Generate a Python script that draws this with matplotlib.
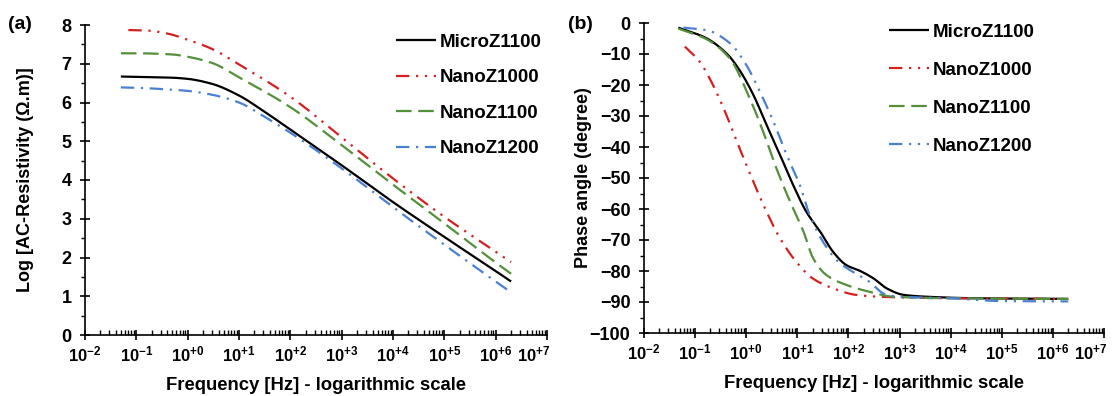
import numpy as np
import matplotlib
matplotlib.use("Agg")
import matplotlib.pyplot as plt
import matplotlib.transforms as mtransforms
from matplotlib.ticker import FixedLocator, LogLocator, NullFormatter

plt.rcParams['font.family'] = ['Liberation Sans', 'DejaVu Sans']
plt.rcParams['font.weight'] = 'bold'
plt.rcParams['mathtext.fontset'] = 'custom'
plt.rcParams['mathtext.rm'] = 'Liberation Sans:bold'
plt.rcParams['mathtext.bf'] = 'Liberation Sans:bold'
plt.rcParams['mathtext.default'] = 'bf'

series_names = ["MicroZ1100", "NanoZ1000", "NanoZ1100", "NanoZ1200"]
colors = ["#000000", "#d42020", "#54903a", "#4a80d0"]

# ---- Panel (a): log AC resistivity ----
fa_micro = [0.05, 0.1, 0.5, 1, 3, 10, 30, 100, 1e3, 1e4, 1e5, 1e6, 2e6]
ra_micro = [6.67, 6.66, 6.64, 6.61, 6.48, 6.18, 5.78, 5.30, 4.38, 3.43, 2.53, 1.65, 1.38]
fa_n1000 = [0.07, 0.15, 0.4, 1, 3, 10, 100, 1e3, 1e4, 1e5, 1e6, 2e6]
ra_n1000 = [7.87, 7.86, 7.78, 7.62, 7.38, 6.98, 6.15, 5.10, 4.04, 3.05, 2.15, 1.88]
fa_n1100 = [0.05, 0.1, 0.5, 1, 3, 10, 100, 1e3, 1e4, 1e5, 1e6, 2e6]
ra_n1100 = [7.27, 7.27, 7.24, 7.18, 7.02, 6.65, 5.88, 4.90, 3.88, 2.88, 1.87, 1.58]
fa_n1200 = [0.05, 0.1, 0.5, 1, 3, 10, 30, 100, 1e3, 1e4, 1e5, 1e6, 2e6]
ra_n1200 = [6.39, 6.38, 6.33, 6.30, 6.20, 6.00, 5.65, 5.22, 4.30, 3.30, 2.33, 1.38, 1.10]

# ---- Panel (b): phase angle ----
fb_micro = [0.047, 0.166, 0.44, 0.74, 1.38, 2.5, 4.6, 8.3, 15, 28, 50, 91, 170, 310, 560, 1200, 3400, 3.2e4, 2e6]
pb_micro = [-1.5, -4.9, -10.3, -15.2, -23.2, -32.9, -42.6, -52.3, -60.9, -67.3, -73.8, -78.1,
            -80.0, -82.4, -85.6, -87.7, -88.3, -88.8, -89.0]
fb_n1000 = [0.063, 0.123, 0.224, 0.41, 0.74, 1.38, 2.5, 4.6, 9.5, 20, 50, 140, 400, 1e4, 2e6]
pb_n1000 = [-7.6, -12.5, -20.0, -29.7, -40.4, -51.2, -60.9, -69.5, -77.0, -82.4, -85.6, -87.7,
            -88.3, -88.8, -89.0]
fb_n1100 = [0.047, 0.166, 0.48, 1.17, 2.14, 3.9, 7.2, 13.2, 20.4, 37, 91, 257, 760, 1e4, 2e6]
pb_n1100 = [-1.8, -5.2, -11.5, -24.3, -35.0, -46.9, -57.6, -67.3, -75.9, -81.3, -84.5, -86.7,
            -88.3, -88.8, -89.0]
fb_n1200 = [0.059, 0.166, 0.48, 1.0, 1.86, 3.4, 6.2, 11.2, 17.4, 31.6, 63, 107, 230, 560, 1000,
            1e4, 1e5, 2e6]
pb_n1200 = [-1.5, -2.3, -6.5, -13.5, -22.2, -31.8, -42.6, -52.3, -61.9, -70.5, -77.0, -79.7,
            -82.9, -87.7, -88.3, -88.8, -89.7, -89.8]

xtick_vals = [1e-2, 1e-1, 1e0, 1e1, 1e2, 1e3, 1e4, 1e5, 1e6, 1e7]
xtick_labels = ["10$^{-2}$", "10$^{-1}$", "10$^{+0}$", "10$^{+1}$", "10$^{+2}$",
                "10$^{+3}$", "10$^{+4}$", "10$^{+5}$", "10$^{+6}$", "10$^{+7}$"]

styles_a = [(0, ()), (0, (6, 3, 1, 3, 1, 3)), (0, (7, 3)), (0, (6, 3, 1, 3))]
styles_b = [(0, ()), (0, (6, 3, 1, 3, 1, 3)), (0, (7, 3)), (0, (6, 3, 1, 3, 1, 3))]


def smooth(f, v):
    """Monotone cubic interpolation (in log-frequency) through the read points."""
    x = np.log10(np.asarray(f, float)); y = np.asarray(v, float)
    xs = np.linspace(x[0], x[-1], 500)
    h = np.diff(x); d = np.diff(y) / h
    m = np.zeros_like(y)
    m[0] = d[0]; m[-1] = d[-1]
    for k in range(1, len(y) - 1):
        if d[k - 1] * d[k] <= 0:
            m[k] = 0
        else:
            w1 = 2 * h[k] + h[k - 1]; w2 = h[k] + 2 * h[k - 1]
            m[k] = (w1 + w2) / (w1 / d[k - 1] + w2 / d[k])
    idx = np.clip(np.searchsorted(x, xs) - 1, 0, len(x) - 2)
    t = (xs - x[idx]) / h[idx]
    h00 = 2 * t**3 - 3 * t**2 + 1; h10 = t**3 - 2 * t**2 + t
    h01 = -2 * t**3 + 3 * t**2; h11 = t**3 - t**2
    ys = h00 * y[idx] + h10 * h[idx] * m[idx] + h01 * y[idx + 1] + h11 * h[idx] * m[idx + 1]
    return 10**xs, ys


fig = plt.figure(figsize=(11.12, 3.96), dpi=100)
axa = fig.add_axes([85 / 1112, 61 / 396, 462 / 1112, 310 / 396])
axb = fig.add_axes([644 / 1112, 63 / 396, 460 / 1112, 310 / 396])

data_a = [(fa_micro, ra_micro), (fa_n1000, ra_n1000), (fa_n1100, ra_n1100), (fa_n1200, ra_n1200)]
data_b = [(fb_micro, pb_micro), (fb_n1000, pb_n1000), (fb_n1100, pb_n1100), (fb_n1200, pb_n1200)]

for i, (f, v) in enumerate(data_a):
    xs, ys = smooth(f, v)
    axa.plot(xs, ys, color=colors[i], lw=1.6, linestyle=styles_a[i], label=series_names[i])
for i, (f, v) in enumerate(data_b):
    xs, ys = smooth(f, v)
    axb.plot(xs, ys, color=colors[i], lw=1.6, linestyle=styles_b[i], label=series_names[i])

for ax, (ymin, ymax, ystep, yminor) in [(axa, (0, 8, 1, 0.5)), (axb, (-100, 0, 10, 5))]:
    ax.set_xscale('log')
    ax.set_xlim(1e-2, 1e7)
    ax.set_ylim(ymin, ymax)
    ax.xaxis.set_major_locator(FixedLocator(xtick_vals))
    ax.set_xticklabels(xtick_labels)
    ax.xaxis.set_minor_locator(LogLocator(base=10, subs=np.arange(2, 10), numticks=20))
    ax.xaxis.set_minor_formatter(NullFormatter())
    ax.set_yticks(np.arange(ymin, ymax + ystep / 2, ystep))
    ax.set_yticks(np.arange(ymin, ymax + 0.01, yminor), minor=True)
    ax.spines['top'].set_visible(False)
    ax.spines['right'].set_visible(False)
    for s in ['left', 'bottom']:
        ax.spines[s].set_linewidth(1.2)
    ax.tick_params(axis='x', which='major', direction='inout', length=7.5, width=1.2, labelsize=12, pad=3)
    ax.tick_params(axis='x', which='minor', direction='in', length=3.5, width=1.0)
    ax.tick_params(axis='y', which='major', direction='inout', length=7.5, width=1.2, labelsize=13, pad=6)
    ax.tick_params(axis='y', which='minor', direction='out', length=3, width=1.0)
    for lab in ax.get_xticklabels() + ax.get_yticklabels():
        lab.set_fontweight('bold')
    # last decade label is pulled left so that it stays inside the figure
    last = ax.get_xticklabels()[-1]
    last.set_horizontalalignment('right')
    last.set_transform(last.get_transform() + mtransforms.ScaledTranslation(3 / 100, 0, fig.dpi_scale_trans))
    ax.set_xlabel("Frequency [Hz] - logarithmic scale", fontsize=13.3, fontweight='bold', labelpad=9)

axa.legend(loc='upper left', bbox_to_anchor=(0.673, 0.972), frameon=False, fontsize=13.5,
           handlelength=2.15, labelspacing=0.98, handletextpad=0.2, borderpad=0, borderaxespad=0)
axb.legend(loc='upper left', bbox_to_anchor=(0.533, 0.997), frameon=False, fontsize=13.5,
           handlelength=2.15, labelspacing=1.11, handletextpad=0.2, borderpad=0, borderaxespad=0)

axa.set_ylabel("Log [AC-Resistivity (\u03a9.m)]", fontsize=13, fontweight='bold', labelpad=20)
axb.set_ylabel("Phase angle (degree)", fontsize=13, fontweight='bold', labelpad=-2)

fig.text(0.007, 0.938, "(a)", fontsize=14, fontweight='bold', va='center')
fig.text(0.511, 0.938, "(b)", fontsize=14, fontweight='bold', va='center')

fig.savefig("out.png", dpi=100)
